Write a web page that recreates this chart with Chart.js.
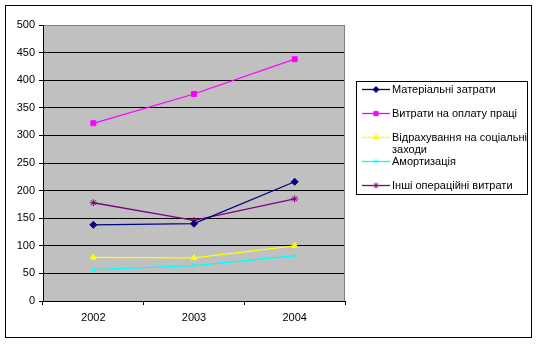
<!DOCTYPE html>
<html>
<head>
<meta charset="utf-8">
<script src="https://cdn.jsdelivr.net/npm/chart.js@4.4.0/dist/chart.umd.min.js"></script>
<style>
  html, body { margin: 0; padding: 0; background: #fff; }
  #chart { display: block; }
</style>
</head>
<body>
<canvas id="chart" width="538" height="344"></canvas>
<script>
// ---- data ----
const years = ["2002", "2003", "2004"];
const material = [138, 140, 216];
const wages = [322, 375, 438];
const social = [79, 78, 100];
const amort = [57, 64, 82];
const other = [178, 146, 185];
const seriesNames = [
    "Матеріальні затрати",
    "Витрати на оплату праці",
    "Відрахування на соціальні заходи",
    "Амортизація",
    "Інші операційні витрати"
];
const yMin = 0, yMax = 500, yStep = 50;

const colors = ["#000080", "#FF00FF", "#FFFF00", "#00FFFF", "#800080"];
const markers = ["rectRot", "rect", "triangle", "crossRot", "star"];
const seriesData = [material, wages, social, amort, other];

const FONT = "Arial, 'Liberation Sans', sans-serif";

const datasets = seriesData.map((d, i) => ({
    label: seriesNames[i],
    data: d,
    borderColor: colors[i],
    backgroundColor: colors[i],
    borderWidth: 1.3,
    pointStyle: markers[i],
    pointRadius: 3.5,
    pointBorderWidth: 1,
    tension: 0
}));

// background, plot area and outer frame
const framePlugin = {
    id: "frame",
    beforeDraw(chart) {
        const c = chart.ctx, a = chart.chartArea;
        c.save();
        c.fillStyle = "#fff";
        c.fillRect(0, 0, chart.width, chart.height);
        c.fillStyle = "#C0C0C0";
        c.fillRect(a.left, a.top, a.right - a.left, a.bottom - a.top);
        c.strokeStyle = "#000";
        c.lineWidth = 1;
        c.strokeRect(5.5, 5.5, 526, 332);
        c.restore();
    },
    beforeDatasetsDraw(chart) {
        const c = chart.ctx, a = chart.chartArea;
        c.save();
        c.strokeStyle = "#808080";
        c.lineWidth = 1;
        c.beginPath();
        c.moveTo(a.left + 1, Math.round(a.top) + 0.5);
        c.lineTo(Math.round(a.right) - 0.5, Math.round(a.top) + 0.5);
        c.lineTo(Math.round(a.right) - 0.5, a.bottom);
        c.stroke();
        c.restore();
    }
};

// excel-like legend box at the right
const legendPlugin = {
    id: "xlLegend",
    afterDraw(chart) {
        const c = chart.ctx;
        const box = { x: 356.5, y: 81.5, w: 171, h: 113 };
        c.save();
        c.strokeStyle = "#000";
        c.lineWidth = 1;
        c.strokeRect(box.x, box.y, box.w, box.h);
        c.font = "11px " + FONT;
        c.textBaseline = "middle";
        chart.data.datasets.forEach((ds, i) => {
            const y = 89.5 + 24 * i;
            c.strokeStyle = ds.borderColor;
            c.lineWidth = 1.3;
            c.beginPath();
            c.moveTo(362, y);
            c.lineTo(390, y);
            c.stroke();
            c.lineWidth = 1;
            c.fillStyle = ds.backgroundColor;
            c.strokeStyle = ds.borderColor;
            Chart.helpers.drawPoint(c, {
                pointStyle: ds.pointStyle, radius: 3, rotation: 0, borderWidth: 1
            }, 376, y);
            // wrap text
            const words = ds.label.split(" ");
            const lines = [];
            let cur = "";
            words.forEach(w => {
                const t = cur ? cur + " " + w : w;
                if (c.measureText(t).width > 136 && cur) { lines.push(cur); cur = w; }
                else cur = t;
            });
            lines.push(cur);
            c.fillStyle = "#000";
            lines.forEach((l, k) => c.fillText(l, 392, y + 12 * k));
        });
        c.restore();
    }
};

new Chart(document.getElementById("chart"), {
    type: "line",
    data: { labels: years, datasets },
    options: {
        responsive: false,
        animation: false,
        layout: { padding: { left: 0, top: 25, right: 193, bottom: 0 } },
        plugins: { legend: { display: false }, tooltip: { enabled: false } },
        scales: {
            x: {
                offset: true,
                afterFit(scale) { scale.height = 43; },
                grid: { offset: true, drawOnChartArea: false, drawTicks: true, tickLength: 4, color: "#000" },
                border: { color: "#000" },
                ticks: { color: "#000", padding: 6, font: { family: FONT, size: 11 } }
            },
            y: {
                min: yMin,
                max: yMax,
                afterFit(scale) { scale.width = 43; },
                grid: {
                    tickLength: 4,
                    tickColor: "#000",
                    color: ctx => (ctx.tick && ctx.tick.value === yMax ? "#808080" : "#000")
                },
                border: { color: "#000" },
                ticks: { stepSize: yStep, color: "#000", padding: 4, font: { family: FONT, size: 11 } }
            }
        }
    },
    plugins: [framePlugin, legendPlugin]
});
</script>
</body>
</html>
